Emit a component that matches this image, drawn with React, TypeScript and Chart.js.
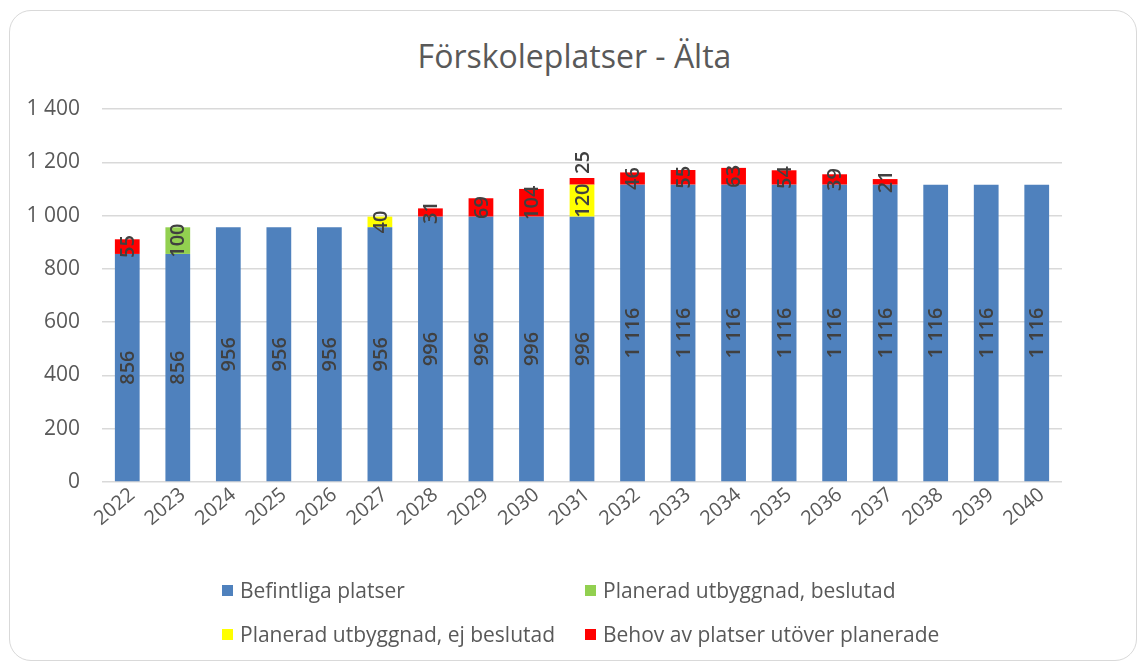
import React, { useEffect, useRef } from "react";
import { Chart, registerables } from "chart.js";

Chart.register(...registerables);

const years = ["2022","2023","2024","2025","2026","2027","2028","2029","2030","2031","2032","2033","2034","2035","2036","2037","2038","2039","2040"];
const befintliga = [856,856,956,956,956,956,996,996,996,996,1116,1116,1116,1116,1116,1116,1116,1116,1116];
const beslutad = [null,100,null,null,null,null,null,null,null,null,null,null,null,null,null,null,null,null,null];
const ejBeslutad = [null,null,null,null,null,40,null,null,null,120,null,null,null,null,null,null,null,null,null];
const behov = [55,null,null,null,null,null,31,69,104,25,46,55,63,54,39,21,null,null,null];
const yTicks = [0,200,400,600,800,1000,1200,1400];
const outsideLabelYears = ["2031"];

const seriesNames = ["Befintliga platser","Planerad utbyggnad, beslutad","Planerad utbyggnad, ej beslutad","Behov av platser utöver planerade"];
const seriesColors = ["#4F81BD","#92D050","#FFFF00","#FF0000"];

const FONT = "'Open Sans', Lato, sans-serif";
const TEXT = "#595959";

const fmt = (v: number) => String(v).replace(/\B(?=(\d{3})+(?!\d))/g, " ");

const labelPlugin = {
  id: "barLabels",
  afterDatasetsDraw(chart: any) {
    const ctx = chart.ctx;
    const n = chart.data.datasets.length;
    chart.data.datasets.forEach((ds: any, di: number) => {
      const meta = chart.getDatasetMeta(di);
      meta.data.forEach((bar: any, i: number) => {
        const v = ds.data[i];
        if (!v) return;
        const { x, y, base } = bar.getProps(["x", "y", "base"], true);
        const text = fmt(v);
        ctx.save();
        ctx.font = `600 20px ${FONT}`;
        ctx.fillStyle = "#404040";
        ctx.textAlign = "center";
        ctx.textBaseline = "middle";
        const w = ctx.measureText(text).width;
        let cy = (y + base) / 2;
        if (di === n - 1 && outsideLabelYears.includes(chart.data.labels[i])) {
          cy = y - 4 - w / 2;
        }
        ctx.translate(x, cy);
        ctx.rotate(-Math.PI / 2);
        ctx.fillText(text, 0, 1);
        ctx.restore();
      });
    });
  },
};

export default function App() {
  const ref = useRef<HTMLCanvasElement>(null);
  useEffect(() => {
    document.body.style.margin = "0";
    const data = [befintliga, beslutad, ejBeslutad, behov];
    const chart = new Chart(ref.current!, {
      type: "bar",
      data: {
        labels: years,
        datasets: data.map((d, i) => ({
          label: seriesNames[i],
          data: d,
          backgroundColor: seriesColors[i],
          borderWidth: 0,
          barPercentage: 0.49,
          categoryPercentage: 1,
        })),
      },
      options: {
        animation: false,
        responsive: false,
        maintainAspectRatio: false,
        layout: { padding: { top: 109, right: 77, bottom: 110, left: 0 } },
        plugins: {
          legend: { display: false },
          title: { display: false },
          tooltip: { enabled: false },
        },
        scales: {
          x: {
            stacked: true,
            grid: { display: false, drawTicks: false },
            border: { display: false },
            ticks: {
              color: TEXT,
              font: { family: FONT, size: 20 },
              minRotation: 40,
              maxRotation: 40,
              padding: 1,
              labelOffset: 5,
            },
            afterFit: (s: any) => { s.height = 71; },
          },
          y: {
            stacked: true,
            min: 0,
            max: 1400,
            afterBuildTicks: (s: any) => { s.ticks = yTicks.map((v) => ({ value: v })); },
            grid: { color: "#d9d9d9", lineWidth: 1.5, drawTicks: false },
            border: { display: false },
            ticks: {
              color: TEXT,
              font: { family: FONT, size: 21 },
              padding: 22,
              callback: (v: any) => fmt(Number(v)),
            },
            afterFit: (s: any) => { s.width = 102; },
          },
        },
      },
      plugins: [labelPlugin],
    });
    return () => chart.destroy();
  }, []);

  const legendItem = (i: number, left: number, top: number) => (
    <div key={i} style={{ position: "absolute", left, top, height: 24, display: "flex", alignItems: "center", whiteSpace: "nowrap" }}>
      <span style={{ display: "inline-block", width: 11, height: 11, background: seriesColors[i], marginRight: 7 }} />
      <span style={{ fontFamily: FONT, fontSize: 21, color: TEXT, lineHeight: "24px" }}>{seriesNames[i]}</span>
    </div>
  );

  return (
    <div style={{ position: "relative", width: 1139, height: 663, overflow: "hidden", background: "#fff" }}>
      <div style={{ position: "absolute", left: 9, top: 10, width: 1126, height: 649, border: "1.5px solid #d9d9d9", borderRadius: 22 }} />
      <div style={{ position: "absolute", left: 0, top: 34, width: 1149, textAlign: "center", fontFamily: FONT, fontSize: 32, lineHeight: "44px", color: TEXT }}>
        Förskoleplatser - Älta
      </div>
      <canvas ref={ref} width={1139} height={663} style={{ position: "absolute", left: 0, top: 0 }} />
      {legendItem(0, 222, 578)}
      {legendItem(1, 585, 578)}
      {legendItem(2, 222, 622)}
      {legendItem(3, 585, 622)}
    </div>
  );
}
